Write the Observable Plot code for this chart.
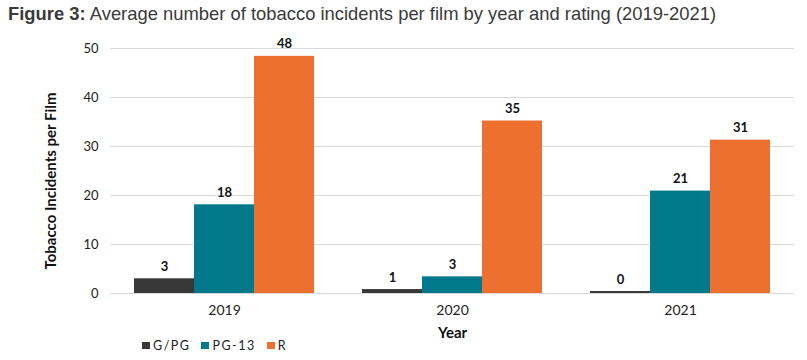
<!DOCTYPE html>
<html>
<head>
<meta charset="utf-8">
<script src="https://cdn.jsdelivr.net/npm/d3@7"></script>
<script src="https://cdn.jsdelivr.net/npm/@observablehq/plot@0.6"></script>
<style>
  html, body { margin: 0; padding: 0; background: #fff; }
  #wrap { position: relative; width: 807px; height: 360px; overflow: hidden; }
  #title { position: absolute; left: 8px; top: 3px; font-family: "Liberation Sans", Arial, sans-serif; font-size: 18.4px; line-height: 22px; color: #3a3a3a; white-space: nowrap; }
  #chart { position: absolute; left: 0; top: 32px; }
  #legend { position: absolute; left: 142px; top: 338px; font-family: Lato, "Open Sans", sans-serif; font-size: 12.5px; letter-spacing: 1.5px; color: #222; display: flex; align-items: center; }
  #legend .item { display: flex; align-items: center; margin-right: 11px; }
  #legend .sw { width: 8px; height: 7px; margin-right: 3px; }
</style>
</head>
<body>
<div id="wrap">
  <div id="title"><b>Figure 3:</b> Average number of tobacco incidents per film by year and rating (2019-2021)</div>
  <div id="chart"></div>
  <div id="legend"></div>
</div>
<script>
const years = ["2019", "2020", "2021"];
const ratings = ["G/PG", "PG-13", "R"];
const gpgValues = [3.0, 0.8, 0.4];
const pg13Values = [18.1, 3.4, 20.9];
const rValues = [48.4, 35.2, 31.3];
const ratingColors = ["#383838", "#02788b", "#ed7030"];
const yTicks = [0, 10, 20, 30, 40, 50];
const yLabel = "Tobacco Incidents per Film";
const xLabel = "Year";

const seriesValues = [gpgValues, pg13Values, rValues];
const data = years.flatMap((year, i) =>
  ratings.map((rating, j) => ({year, rating, value: seriesValues[j][i]}))
);

const font = "Lato, 'Open Sans', sans-serif";

const chart = Plot.plot({
  width: 807,
  height: 328,
  marginTop: 16,
  marginBottom: 67,
  marginLeft: 109,
  marginRight: 12,
  style: {fontFamily: font, color: "#222", background: "transparent"},
  fx: {domain: years, padding: 0},
  x: {domain: ratings, paddingInner: 0, paddingOuter: 0.4, axis: null},
  y: {domain: [0, 50], axis: null},
  color: {domain: ratings, range: ratingColors},
  marks: [
    Plot.gridY(yTicks, {stroke: "#d9d9d9", strokeOpacity: 1, strokeWidth: 1}),
    Plot.barY(data, {fx: "year", x: "rating", y: "value", fill: "rating"}),
    Plot.text(data, {
      fx: "year", x: "rating", y: "value",
      text: d => String(Math.round(d.value)),
      lineAnchor: "bottom", dy: -8,
      fontWeight: "bold", fontSize: 13, fill: "#111"
    }),
    Plot.axisY({
      ticks: yTicks, tickSize: 0, tickPadding: 12, label: null,
      fontSize: 13, style: {letterSpacing: "1px"}, fill: "#222"
    }),
    Plot.axisFx({
      anchor: "bottom",
      tickSize: 0, tickPadding: 12, label: null,
      fontSize: 14, style: {letterSpacing: "1.5px"}, fill: "#222"
    }),
    Plot.text([yLabel], {
      facet: "super",
      frameAnchor: "left", textAnchor: "middle", text: d => d,
      rotate: -90, dx: -59, dy: 10,
      fontWeight: "bold", fontSize: 15, fill: "#111",
      style: {letterSpacing: "0.5px"}
    }),
    Plot.text([xLabel], {
      facet: "super",
      frameAnchor: "bottom", text: d => d,
      dy: 40, lineAnchor: "middle",
      fontWeight: "bold", fontSize: 15, fill: "#111",
      style: {letterSpacing: "0.5px"}
    })
  ]
});
document.getElementById("chart").appendChild(chart);

const legend = document.getElementById("legend");
ratings.forEach((r, i) => {
  const item = document.createElement("div");
  item.className = "item";
  const sw = document.createElement("span");
  sw.className = "sw";
  sw.style.background = ratingColors[i];
  const t = document.createElement("span");
  t.textContent = r;
  item.appendChild(sw);
  item.appendChild(t);
  legend.appendChild(item);
});
</script>
</body>
</html>
